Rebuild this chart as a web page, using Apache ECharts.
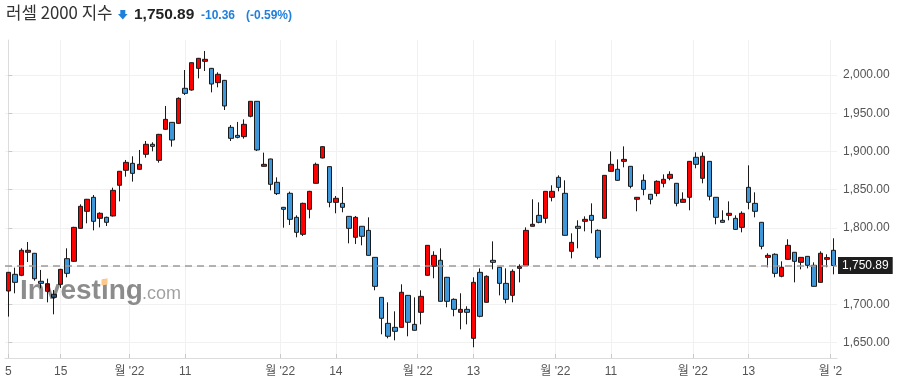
<!DOCTYPE html>
<html><head><meta charset="utf-8">
<script src="https://cdn.jsdelivr.net/npm/echarts@6/dist/echarts.min.js"></script>
<style>html,body{margin:0;padding:0;background:#fff}#c{width:899px;height:388px}</style>
</head><body><div id="c"></div>
<script>
// ---- data ----
const dates = [
'07-05','07-06','07-07','07-08','07-11','07-12','07-13','07-14','07-15','07-18','07-19','07-20','07-21','07-22','07-25','07-26','07-27','07-28','07-29',
'08-01','08-02','08-03','08-04','08-05','08-08','08-09','08-10','08-11','08-12','08-15','08-16','08-17','08-18','08-19','08-22','08-23','08-24','08-25','08-26','08-29','08-30','08-31',
'09-01','09-02','09-06','09-07','09-08','09-09','09-12','09-13','09-14','09-15','09-16','09-19','09-20','09-21','09-22','09-23','09-26','09-27','09-28','09-29','09-30',
'10-03','10-04','10-05','10-06','10-07','10-10','10-11','10-12','10-13','10-14','10-17','10-18','10-19','10-20','10-21','10-24','10-25','10-26','10-27','10-28','10-31',
'11-01','11-02','11-03','11-04','11-07','11-08','11-09','11-10','11-11','11-14','11-15','11-16','11-17','11-18','11-21','11-22','11-23','11-25','11-28','11-29','11-30',
'12-01','12-02','12-05','12-06','12-07','12-08','12-09','12-12','12-13','12-14','12-15','12-16','12-19','12-20','12-21','12-22','12-23','12-27','12-28','12-29','12-30',
'01-03'];
const openVals = [
1717.6,1739.4,1738.1,1768.2,1766.9,1730.3,1717.2,1713.3,1726.3,1759.9,1756.4,1799.5,1821.8,1840.1,1812.6,1813.9,1815.7,1855.8,1875.4,
1884.5,1876.7,1896.3,1909.4,1888.4,1929.0,1938.1,1936.8,1982.6,1980.4,2008.7,2017.9,2008.7,1990.0,1993.0,1931.6,1921.1,1919.4,1946.0,1965.6,1880.6,1890.2,1859.7,
1827.0,1845.3,1813.9,1791.7,1824.4,1858.4,1891.5,1880.2,1833.5,1832.2,1815.2,1787.8,1802.2,1796.9,1761.6,1709.3,1675.3,1670.1,1670.1,1711.9,1674.0,
1689.7,1738.1,1749.9,1757.7,1735.5,1706.7,1689.7,1693.6,1655.7,1742.0,1702.8,1757.7,1748.6,1727.6,1711.9,1747.2,1751.2,1802.2,1816.5,1812.6,1840.1,
1866.2,1845.3,1769.5,1802.2,1808.7,1816.5,1796.9,1812.6,1874.1,1876.7,1887.1,1880.6,1837.5,1862.3,1844.0,1845.3,1858.4,1864.9,1858.4,1833.5,1840.1,
1892.4,1864.9,1887.1,1840.1,1810.0,1816.5,1812.6,1800.8,1853.1,1832.2,1807.4,1761.6,1765.6,1736.8,1759.0,1768.2,1755.1,1762.9,1751.2,1728.9,1759.0,
1770.8];
const closeVals = [
1742.0,1728.9,1770.8,1770.8,1733.7,1727.6,1727.2,1709.3,1745.9,1740.7,1800.8,1828.3,1837.5,1808.7,1819.2,1807.4,1849.2,1874.1,1885.8,
1871.4,1883.2,1909.4,1906.7,1922.4,1942.0,1915.0,1969.5,1976.0,2016.1,2021.8,2020.5,1988.2,2000.9,1959.5,1917.2,1918.5,1935.5,1965.6,1902.0,1883.2,1857.1,1844.9,
1824.4,1811.3,1794.3,1832.2,1847.9,1883.2,1906.3,1833.5,1838.8,1827.0,1799.5,1813.9,1789.1,1764.2,1723.7,1681.9,1658.4,1664.9,1715.9,1676.7,1666.2,
1710.6,1777.3,1764.2,1704.1,1704.1,1693.6,1693.6,1689.7,1728.9,1684.5,1736.8,1755.1,1727.6,1706.7,1743.3,1749.9,1796.9,1804.8,1807.4,1847.9,1847.9,
1853.1,1790.4,1781.2,1799.5,1811.3,1810.0,1761.6,1868.8,1883.2,1862.3,1889.7,1854.4,1840.1,1850.5,1837.5,1861.0,1863.6,1870.1,1832.2,1837.5,1887.1,
1883.2,1893.7,1841.4,1813.9,1807.4,1819.2,1798.2,1819.2,1833.5,1821.8,1776.0,1764.2,1740.7,1748.6,1777.3,1756.4,1761.6,1751.2,1723.7,1766.9,1761.25,
1750.89];
const lowVals = [
1684.1,1714.6,1737.0,1755.5,1731.1,1721.1,1702.8,1687.1,1721.5,1735.5,1755.5,1799.0,1806.1,1796.9,1800.8,1802.6,1815.0,1834.8,1867.1,
1860.6,1876.0,1891.9,1900.2,1885.4,1928.5,1906.3,1936.0,1973.9,1979.5,1995.6,2005.2,1977.3,1983.9,1954.2,1913.7,1917.2,1916.8,1944.7,1900.6,1880.2,1849.2,1843.1,
1800.4,1803.9,1787.8,1789.5,1812.6,1858.0,1891.0,1827.0,1819.2,1820.5,1779.9,1779.1,1777.3,1763.8,1718.5,1661.0,1655.7,1653.1,1669.5,1658.4,1665.8,
1674.0,1737.5,1734.2,1703.8,1696.3,1684.5,1667.5,1674.0,1644.0,1683.2,1702.5,1745.9,1711.9,1701.5,1702.8,1728.9,1750.8,1801.8,1806.1,1806.1,1834.8,
1847.9,1790.0,1760.3,1773.4,1795.6,1793.0,1759.0,1812.2,1873.7,1861.9,1879.3,1851.8,1821.8,1842.7,1830.9,1841.4,1853.1,1862.3,1828.3,1833.1,1823.1,
1878.0,1858.4,1836.1,1804.8,1807.0,1810.0,1797.8,1794.3,1824.4,1813.9,1772.1,1748.6,1735.5,1735.5,1758.5,1728.9,1745.9,1747.2,1723.3,1728.5,1748.6,
1739.4];
const highVals = [
1742.5,1748.1,1773.4,1781.7,1767.3,1745.1,1733.7,1718.9,1746.5,1773.4,1801.5,1830.9,1838.0,1843.1,1820.5,1814.8,1852.7,1874.5,1888.9,
1893.7,1902.0,1913.7,1912.0,1923.0,1959.5,1938.5,1970.8,2006.5,2016.5,2022.3,2031.4,2009.2,2003.5,1993.5,1934.6,1938.6,1942.0,1966.0,1966.0,1898.5,1890.5,1866.2,
1827.5,1847.5,1816.5,1833.1,1848.5,1885.4,1907.0,1880.6,1841.8,1853.6,1815.5,1815.7,1802.5,1813.9,1762.0,1709.5,1702.8,1691.0,1726.3,1712.3,1709.3,
1718.5,1777.6,1769.5,1773.4,1736.0,1708.0,1714.6,1697.6,1735.5,1747.2,1738.1,1782.5,1749.0,1747.2,1745.9,1752.5,1800.8,1837.5,1833.5,1848.3,1855.8,
1868.8,1862.3,1793.0,1810.0,1815.2,1832.2,1798.2,1869.2,1900.2,1889.7,1906.7,1881.0,1840.5,1870.1,1844.4,1862.3,1870.1,1874.1,1858.8,1846.6,1887.5,
1898.9,1898.9,1887.5,1840.5,1823.1,1834.8,1816.5,1821.8,1881.9,1846.6,1807.8,1766.9,1766.9,1756.4,1785.2,1768.5,1762.0,1763.3,1755.1,1769.5,1765.6,
1786.5];
const tickDates  = ['07-05','07-15','08-01','08-11','09-01','09-14','10-03','10-13','11-01','11-11','12-01','12-13','01-03'];
const tickLabels = ['5','15',"월 '22",'11',"월 '22",'14',"월 '22",'13',"월 '22",'11',"월 '22",'13',"월 '2"];
const monthStart = [false,false,true,false,true,false,true,false,true,false,true,false,true];
const yTicks = [1650,1700,1750,1800,1850,1900,1950,2000];
const titleText = '러셀 2000 지수';
const lastPrice = 1750.89;
const changeText = '-10.36';
const changePctText = '(-0.59%)';

// ---- chart ----
const tickPos = tickDates.map((d,k)=>dates.indexOf(d) - (monthStart[k]?0.5:0));
const fmt = v => v.toLocaleString('en-US',{minimumFractionDigits:2,maximumFractionDigits:2});
const chart = echarts.init(document.getElementById('c'), null, {renderer:'canvas'});
const FONT = '"Liberation Sans","Noto Sans CJK KR",sans-serif';
chart.setOption({
  animation:false,
  backgroundColor:'#fff',
  grid:{left:5,right:62,top:40,bottom:30},
  xAxis:{
    type:'value', min:-0.5, max:dates.length-0.5,
    axisLine:{show:true,lineStyle:{color:'#dcdcdc'}},
    axisTick:{show:true,customValues:tickPos,inside:true,length:4,lineStyle:{color:'#c8c8c8'}},
    axisLabel:{customValues:tickPos,color:'#555',fontSize:12,fontFamily:FONT,margin:8,
      formatter:v=>{let b=0;for(let k=0;k<tickPos.length;k++){if(Math.abs(tickPos[k]-v)<Math.abs(tickPos[b]-v))b=k;}return tickLabels[b];}},
    splitLine:{show:true,lineStyle:{color:'#f1f1f1'}}
  },
  yAxis:{
    type:'value', position:'right', min:1630.0, max:2045.76, scale:true,
    axisLine:{show:true,lineStyle:{color:'#dcdcdc'}},
    axisTick:{show:true,customValues:yTicks,length:4,lineStyle:{color:'#c8c8c8'}},
    axisLabel:{customValues:yTicks,color:'#555',fontSize:12,fontFamily:FONT,margin:6,formatter:v=>fmt(v)},
    splitLine:{show:true,lineStyle:{color:'#f1f1f1'}}
  },
  series:[{
    type:'candlestick',
    data:dates.map((d,i)=>[i,openVals[i],closeVals[i],lowVals[i],highVals[i]]),
    encode:{x:0,y:[1,2,3,4]},
    barWidth:5,
    itemStyle:{color:'#ff0000',color0:'#3d97d9',borderColor:'#1a1a1a',borderColor0:'#1a1a1a',borderWidth:1},
    markLine:{
      silent:true, symbol:'none', animation:false,
      lineStyle:{color:'#9a9a9a',type:[7,5],width:1.6},
      label:{show:true,position:'end',distance:1,formatter:()=>fmt(lastPrice),
        backgroundColor:'#1e1e1e',color:'#fff',fontSize:12,fontFamily:FONT,padding:[3,4,2,4]},
      data:[{yAxis:lastPrice}]
    }
  }],
  graphic:[
    {type:'text',x:6,y:13,z:100,style:{text:titleText,font:'16.8px "Noto Sans CJK KR"',fill:'#333',verticalAlign:'middle'}},
    {type:'polygon',z:100,shape:{points:[[120.3,10],[125.3,10],[125.3,14],[127.6,14],[122.8,19.6],[118,14],[120.3,14]]},style:{fill:'#1f7fdb'}},
    {type:'text',x:134,y:15,z:100,style:{text:fmt(lastPrice),font:'bold 15.5px "Liberation Sans"',fill:'#222',verticalAlign:'middle'}},
    {type:'text',x:201,y:16,z:100,style:{text:changeText,font:'bold 12px "Liberation Sans"',fill:'#1f7fdb',verticalAlign:'middle'}},
    {type:'text',x:246,y:16,z:100,style:{text:changePctText,font:'bold 12px "Liberation Sans"',fill:'#1f7fdb',verticalAlign:'middle'}},
    {type:'text',x:20,y:291.5,z:100,silent:true,style:{text:'Investing',font:'bold 28px "Liberation Sans"',fill:'rgba(0,0,0,0.45)',verticalAlign:'middle'}},
    {type:'text',x:142,y:294.5,z:100,silent:true,style:{text:'.com',font:'18px "Liberation Sans"',fill:'rgba(0,0,0,0.38)',verticalAlign:'middle'}},
    {type:'polygon',z:101,silent:true,shape:{points:[[101.5,279.5],[107.5,278.3],[107.5,284.4],[101.5,285.6]]},style:{fill:'#fcc98a'}}
  ]
});
</script></body></html>
